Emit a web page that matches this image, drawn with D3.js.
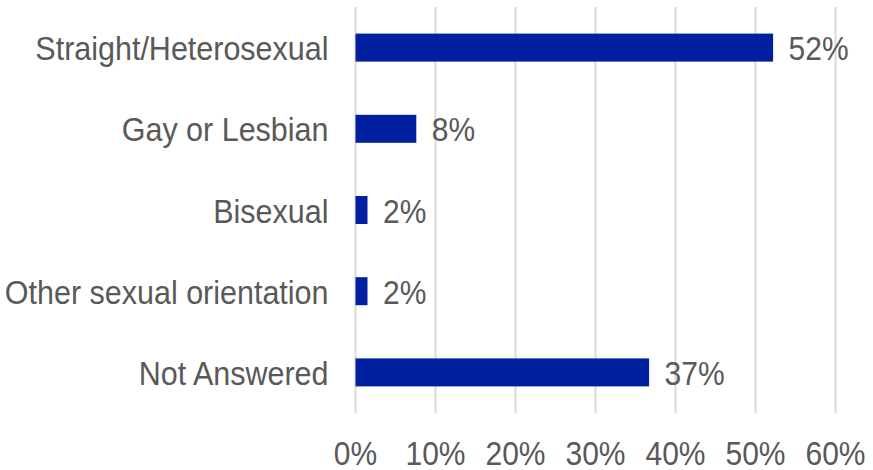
<!DOCTYPE html>
<html>
<head>
<meta charset="utf-8">
<script src="https://cdn.jsdelivr.net/npm/d3@7"></script>
<style>
  html, body { margin: 0; padding: 0; background: #ffffff; }
  svg { display: block; }
  text { font-family: "Liberation Sans", Arial, sans-serif; fill: #595959; }
</style>
</head>
<body>
<svg id="chart" width="873" height="470"></svg>
<script>
const categories = ["Straight/Heterosexual", "Gay or Lesbian", "Bisexual", "Other sexual orientation", "Not Answered"];
const values = [52.2, 7.6, 1.5, 1.5, 36.7];
const valueLabels = ["52%", "8%", "2%", "2%", "37%"];
const tickValues = [0, 10, 20, 30, 40, 50, 60];
const tickLabels = ["0%", "10%", "20%", "30%", "40%", "50%", "60%"];

const svg = d3.select("#chart");
const x0 = 355.5, x1 = 835.5, yTop = 7, yBot = 413;
const fontSize = 30.5, stretch = 1.1;

const x = d3.scaleLinear().domain([0, 60]).range([x0, x1]);
const y = d3.scaleBand().domain(categories).range([yTop, yBot]).paddingInner(0.655).paddingOuter(0.3275);

// gridlines
svg.append("g").selectAll("line").data(tickValues).join("line")
  .attr("x1", d => x(d)).attr("x2", d => x(d))
  .attr("y1", yTop).attr("y2", yBot)
  .attr("stroke", "#d9d9d9").attr("stroke-width", 2);

// bars
const data = categories.map((c, i) => ({ c, v: values[i], l: valueLabels[i] }));
svg.append("g").selectAll("rect").data(data).join("rect")
  .attr("x", x(0)).attr("y", d => y(d.c))
  .attr("width", d => x(d.v) - x(0)).attr("height", y.bandwidth())
  .attr("fill", "#00209F");

function stretchedText(g, tx, ty, str, anchor, fs) {
  g.append("text")
    .attr("transform", `translate(${tx},${ty}) scale(1,${stretch})`)
    .attr("text-anchor", anchor)
    .attr("font-size", fs)
    .text(str);
}

// data labels
const dl = svg.append("g");
data.forEach(d => stretchedText(dl, x(d.v) + 15.5, y(d.c) + y.bandwidth() / 2 + 12.5, d.l, "start", 30));

// category labels
const cl = svg.append("g");
data.forEach(d => stretchedText(cl, 328.5, y(d.c) + y.bandwidth() / 2 + 12.5, d.c, "end", fontSize));

// x tick labels
const tl = svg.append("g");
tickValues.forEach((t, i) => stretchedText(tl, x(t), 464.5, tickLabels[i], "middle", 30));
</script>
</body>
</html>
